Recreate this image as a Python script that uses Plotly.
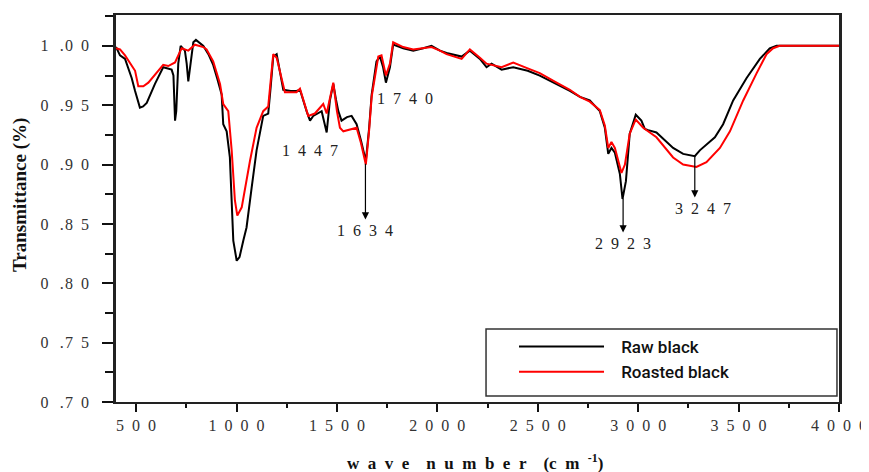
import plotly.graph_objects as go

# ---------------- data ----------------
raw_wn = [400, 420, 445, 478, 495, 519, 535, 553, 594, 635, 677, 686, 694, 700, 710, 722, 743, 752, 760, 770,
          785, 798, 835, 860, 884, 905, 926, 934, 951, 967, 984, 1001, 1015, 1034, 1050, 1075, 1100, 1133, 1158,
          1170, 1183, 1200, 1216, 1233, 1270, 1299, 1316, 1330, 1349, 1366, 1382, 1424, 1440, 1449, 1465, 1482,
          1495, 1507, 1523, 1550, 1573, 1598, 1620, 1644, 1660, 1673, 1697, 1714, 1730, 1744, 1764, 1780, 1830,
          1880, 1930, 1971, 2013, 2046, 2121, 2162, 2212, 2245, 2270, 2320, 2378, 2450, 2510, 2594, 2660, 2710,
          2759, 2809, 2834, 2851, 2867, 2884, 2909, 2922, 2939, 2958, 2988, 3016, 3033, 3050, 3091, 3130, 3174,
          3224, 3282, 3307, 3350, 3382, 3423, 3473, 3540, 3606, 3655, 3689, 3750, 3850, 3950, 4000]
raw_t = [0.999, 0.992, 0.989, 0.973, 0.962, 0.948, 0.949, 0.952, 0.968, 0.982, 0.980, 0.975, 0.937, 0.945, 0.985,
         1.000, 0.996, 0.985, 0.970, 0.985, 1.003, 1.005, 1.000, 0.993, 0.984, 0.972, 0.959, 0.934, 0.928, 0.906,
         0.836, 0.819, 0.822, 0.836, 0.847, 0.880, 0.912, 0.941, 0.943, 0.965, 0.991, 0.993, 0.979, 0.963, 0.962,
         0.962, 0.963, 0.955, 0.945, 0.937, 0.941, 0.945, 0.935, 0.927, 0.954, 0.968, 0.955, 0.945, 0.937, 0.940,
         0.941, 0.934, 0.920, 0.903, 0.930, 0.959, 0.987, 0.991, 0.982, 0.969, 0.982, 1.001, 0.998, 0.996, 0.998,
         1.000, 0.996, 0.994, 0.991, 0.996, 0.989, 0.982, 0.985, 0.980, 0.982, 0.979, 0.975, 0.968, 0.962, 0.957,
         0.954, 0.945, 0.931, 0.909, 0.914, 0.910, 0.892, 0.871, 0.886, 0.926, 0.942, 0.937, 0.930, 0.929, 0.927,
         0.921, 0.914, 0.909, 0.907, 0.912, 0.918, 0.923, 0.934, 0.954, 0.973, 0.989, 0.998, 1.000, 1.000, 1.000,
         1.000, 1.000]

roast_wn = [400, 420, 445, 470, 495, 511, 536, 561, 603, 635, 660, 694, 710, 727, 760, 793, 835, 851, 884, 918,
            934, 959, 976, 992, 1004, 1026, 1067, 1100, 1133, 1158, 1183, 1200, 1241, 1299, 1316, 1357, 1390, 1415,
            1432, 1449, 1465, 1482, 1500, 1515, 1532, 1598, 1620, 1644, 1660, 1673, 1706, 1722, 1744, 1764, 1780,
            1830, 1880, 1971, 2013, 2046, 2121, 2162, 2212, 2245, 2320, 2378, 2450, 2510, 2594, 2660, 2710, 2759,
            2809, 2834, 2851, 2867, 2884, 2917, 2934, 2958, 2988, 3025, 3091, 3130, 3174, 3224, 3290, 3340, 3407,
            3457, 3523, 3590, 3639, 3672, 3705, 3800, 3900, 4000]
roast_t = [0.998, 0.997, 0.992, 0.986, 0.979, 0.966, 0.966, 0.969, 0.977, 0.984, 0.983, 0.986, 0.992, 0.998, 0.996,
           1.001, 0.999, 0.997, 0.987, 0.968, 0.951, 0.945, 0.912, 0.870, 0.857, 0.864, 0.903, 0.931, 0.945, 0.949,
           0.993, 0.990, 0.961, 0.961, 0.964, 0.941, 0.943, 0.948, 0.951, 0.943, 0.955, 0.969, 0.945, 0.931, 0.928,
           0.931, 0.918, 0.900, 0.928, 0.957, 0.991, 0.992, 0.975, 0.985, 1.003, 0.999, 0.997, 0.999, 0.996, 0.993,
           0.989, 0.997, 0.990, 0.985, 0.982, 0.986, 0.981, 0.977, 0.969, 0.963, 0.957, 0.953, 0.946, 0.933, 0.914,
           0.919, 0.914, 0.893, 0.900, 0.926, 0.938, 0.931, 0.923, 0.915, 0.906, 0.900, 0.898, 0.902, 0.914, 0.928,
           0.954, 0.977, 0.993, 0.998, 1.000, 1.000, 1.000, 1.000]

series_names = ["Raw black", "Roasted black"]

x_tick_vals = [500, 1000, 1500, 2000, 2500, 3000, 3500, 4000]
y_tick_vals = [0.70, 0.75, 0.80, 0.85, 0.90, 0.95, 1.00]

# peak labels without arrow: (text, label x, label y)
plain_labels = [("1447", 1366, 0.9117), ("1740", 1839, 0.9554)]
# arrow peaks: (text, peak x, value at peak, label y, label indent)
arrow_peaks = [("1634", 1642, 0.9008, 0.8445, ""),
               ("2923", 2925, 0.8714, 0.8336, ""),
               ("3247", 3282, 0.9075, 0.8630, "\u2003")]

# ---------------- helpers ----------------
EN = "\u2002"
TH = "\u2009"
HAIR = "\u200a"


def spaced(s):
    return EN.join(list(s))


def ytick(v):
    s = f"{v:.2f}"
    return s[0] + EN + TH + "." + HAIR + s[2] + EN + s[3]


SERIF = "Liberation Serif, Times New Roman, serif"

fig = go.Figure()
fig.add_trace(go.Scatter(x=raw_wn, y=raw_t, mode="lines", name=EN + TH + series_names[0],
                         line=dict(color="black", width=2)))
fig.add_trace(go.Scatter(x=roast_wn, y=roast_t, mode="lines", name=EN + TH + series_names[1],
                         line=dict(color="#ff0000", width=2)))

annotations = []
for txt, lx, ly in plain_labels:
    annotations.append(dict(x=lx, y=ly, xref="x", yref="y", text=spaced(txt), showarrow=False,
                            xanchor="center", yanchor="middle",
                            font=dict(family=SERIF, size=16, color="#222")))
for txt, px, py, ly, indent in arrow_peaks:
    annotations.append(dict(x=px, y=py, xref="x", yref="y", ax=px, ay=ly, axref="x", ayref="y",
                            text=indent + spaced(txt), showarrow=True, arrowside="start",
                            startarrowhead=2, startarrowsize=1.2, arrowwidth=1.2, arrowcolor="black",
                            startstandoff=1, standoff=0,
                            font=dict(family=SERIF, size=16, color="#222")))

# axis titles
annotations.append(dict(x=-0.1328, y=0.535, xref="paper", yref="paper", text="<b>Transmittance (%)</b>",
                        textangle=-90, showarrow=False, xanchor="center", yanchor="middle",
                        font=dict(family=SERIF, size=19, color="#111")))
xt = ("w" + EN + "a" + EN + "v" + EN + "e" + "\u2003" + "n" + EN + "u" + EN + "m" + EN + "b" + EN + "e" + EN +
      "r" + "\u2003" + "(c" + EN + "m" + EN + "<sup>-1</sup>)")
annotations.append(dict(x=0.497, y=-0.155, xref="paper", yref="paper", text="<b>" + xt + "</b>",
                        showarrow=False, font=dict(family=SERIF, size=17, color="#111"),
                        xanchor="center", yanchor="middle"))

# legend frame (decoration around the native legend)
shapes = [dict(type="rect", xref="paper", yref="paper", x0=0.5118, x1=0.9972, y0=0.0155, y1=0.1886,
               line=dict(color="#333", width=1.5), fillcolor="white", layer="above")]

# the page body adds an 8 px offset, so the figure is 8 px smaller and margins compensate
fig.update_layout(
    width=861, height=464,
    margin=dict(l=108, r=30, t=7, b=70, autoexpand=False),
    paper_bgcolor="white", plot_bgcolor="white",
    showlegend=True,
    legend=dict(x=0.5505, y=0.1886, xanchor="left", yanchor="top",
                bgcolor="rgba(0,0,0,0)", borderwidth=0,
                font=dict(family="Roboto, sans-serif", size=17, color="#111", weight=500),
                itemwidth=85, tracegroupgap=0),
    annotations=annotations,
    shapes=shapes,
)

fig.update_xaxes(range=[400, 4000], tickmode="array", tickvals=x_tick_vals,
                 ticktext=[spaced(str(v)) for v in x_tick_vals], automargin=False,
                 ticks="outside", ticklen=8, tickwidth=2, tickcolor="#111",
                 minor=dict(dtick=250, ticks="outside", ticklen=4, tickwidth=2, tickcolor="#111", showgrid=False),
                 showline=True, linecolor="#222", linewidth=2, mirror=True,
                 showgrid=False, zeroline=False,
                 tickfont=dict(family=SERIF, size=16, color="#333"))
fig.update_yaxes(range=[0.70, 1.026], tickmode="array", tickvals=y_tick_vals,
                 ticktext=[ytick(v) for v in y_tick_vals], automargin=False,
                 ticks="outside", ticklen=11, tickwidth=1.5, tickcolor="#111", ticklabelstandoff=10,
                 minor=dict(dtick=0.025, tick0=0.70, ticks="outside", ticklen=8, tickwidth=1.5, tickcolor="#111",
                            showgrid=False),
                 showline=True, linecolor="#222", linewidth=2.5, mirror=True,
                 showgrid=False, zeroline=False,
                 tickfont=dict(family=SERIF, size=16, color="#333"))

fig.write_html("out.html")
